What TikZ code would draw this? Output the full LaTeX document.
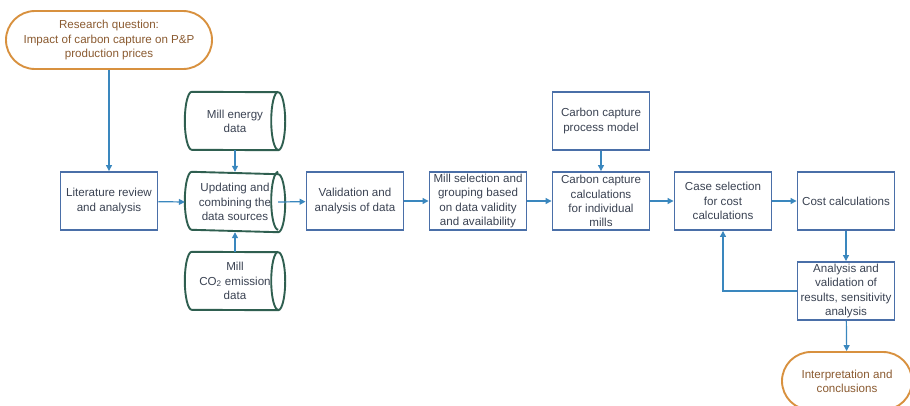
\documentclass[tikz,border=0pt]{standalone}
\usepackage{fontspec}
\setmainfont{Liberation Sans}
\usetikzlibrary{arrows.meta}
\definecolor{boxblue}{HTML}{4A6FA8}
\definecolor{arrblue}{HTML}{3A87BE}
\definecolor{cylgreen}{HTML}{2F5F50}
\definecolor{orng}{HTML}{D8913F}
\definecolor{brn}{HTML}{8A5A30}
\definecolor{txt}{HTML}{3A4252}
\tikzset{
  procbox/.style={draw=boxblue, line width=1.9pt, minimum width=97, minimum height=58, inner sep=1pt, align=center, text=txt, font=\fontsize{11.6}{14.3}\selectfont},
  term/.style={draw=orng, line width=1.9pt, rounded corners=29pt, minimum height=58, inner sep=1pt, align=center, text=brn, font=\fontsize{11.6}{14.3}\selectfont},
  cylnode/.style={minimum width=86, minimum height=58, inner sep=0pt, align=center, text=txt, font=\fontsize{11.6}{14.3}\selectfont},
  cylline/.style={draw=cylgreen, line width=1.9pt},
  arr/.style={draw=arrblue, line width=1.2pt, -{Triangle[length=6pt,width=6pt]}}
}
\newcommand{\drawcylshape}[1]{%
  \draw[cylline] (#1.north west) arc[start angle=90,end angle=270,x radius=7pt,y radius=29pt] -- (#1.south east) arc[start angle=-90,end angle=90,x radius=7pt,y radius=29pt] -- cycle;
  \draw[cylline] (#1.north east) arc[start angle=90,end angle=270,x radius=7pt,y radius=29pt];}
\begin{document}
\begin{tikzpicture}[x=1pt,y=-1pt]
\useasboundingbox (0,0) rectangle (910,405);
\node[term, minimum width=206] (rq) at (109,40) {Research question:\\Impact of carbon capture on P\&P\\production prices};
\node[procbox] (lit) at (109,201) {Literature review\\and analysis};
\node[cylnode] (energy) at (235,121) {Mill energy\\data};
\node[cylnode, minimum height=60] (upd) at (235,202) {Updating and\\combining the\\data sources};
\node[cylnode] (co2) at (235,281) {Mill\\CO\textsubscript{2} emission\\data};
\drawcylshape{energy}
\drawcylshape{upd}
\drawcylshape{co2}
\node[procbox] (val) at (355,201) {Validation and\\analysis of data};
\node[procbox] (sel) at (478,201) {Mill selection and\\grouping based\\on data validity\\and availability};
\node[procbox] (model) at (601,121) {Carbon capture\\process model};
\node[procbox] (calc) at (601,201) {Carbon capture\\calculations\\for individual\\mills};
\node[procbox] (case) at (723,201) {Case selection\\for cost\\calculations};
\node[procbox] (cost) at (846,201) {Cost calculations};
\node[procbox] (ana) at (846,291) {Analysis and\\validation of\\results, sensitivity\\analysis};
\node[term, minimum width=130] (interp) at (847,381) {Interpretation and\\conclusions};
\coordinate (updin) at ([xshift=-7pt]upd.west);
\draw[arr] (rq) -- (lit);
\draw[arr] (lit) -- (updin);
\draw[arr] (energy) -- (upd);
\draw[arr] (co2) -- (upd);
\draw[arr] (upd.east) -- (val);
\draw[arr] (val) -- (sel);
\draw[arr] (sel) -- (calc);
\draw[arr] (model) -- (calc);
\draw[arr] (calc) -- (case);
\draw[arr] (case) -- (cost);
\draw[arr] (cost) -- (ana);
\draw[arr] (ana) -- (interp);
\draw[arr] (ana.west) -| (case.south);
\end{tikzpicture}
\end{document}
